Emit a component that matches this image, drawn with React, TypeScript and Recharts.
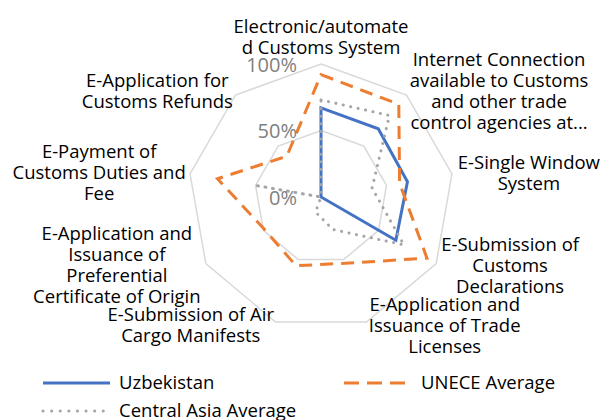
import React from "react";
import {
  RadarChart,
  Radar,
  PolarGrid,
  PolarAngleAxis,
  PolarRadiusAxis
} from "recharts";

// e-customs readiness (share of measures implemented)
const categories = [
  "Electronic/automated Customs System",
  "Internet Connection available to Customs and other trade control agencies at...",
  "E-Single Window System",
  "E-Submission of Customs Declarations",
  "E-Application and Issuance of Trade Licenses",
  "E-Submission of Air Cargo Manifests",
  "E-Application and Issuance of Preferential Certificate of Origin",
  "E-Payment of Customs Duties and Fee",
  "E-Application for Customs Refunds"
];

// how the labels wrap in the original
const categoryLines = [
  ["Electronic/automate", "d Customs System"],
  ["Internet Connection", "available to Customs", "and other trade", "control agencies at..."],
  ["E-Single Window", "System"],
  ["E-Submission of", "Customs", "Declarations"],
  ["E-Application and", "Issuance of Trade", "Licenses"],
  ["E-Submission of Air", "Cargo Manifests"],
  ["E-Application and", "Issuance of", "Preferential", "Certificate of Origin"],
  ["E-Payment of", "Customs Duties and", "Fee"],
  ["E-Application for", "Customs Refunds"]
];

const uzbekistan = [67, 67, 66, 65, 0, 0, 0, 0, 0];
const unece = [92, 91, 60, 92, 53, 55, 49, 79, 40];
const centralAsia = [73, 80, 39, 72, 26, 12, 0, 51, 0];

const radiusTicks = [0, 50, 100];

const data = categories.map((c, i) => ({
  category: c,
  uzbekistan: uzbekistan[i],
  unece: unece[i],
  centralAsia: centralAsia[i]
}));

const FONT = "'Open Sans', sans-serif";

// label block centre relative to the tick point
const labelOffset = [
  [0, -20.5],
  [87.4, 1.5],
  [69, -1],
  [67, -3.5],
  [75.5, -4.5],
  [-82, -5],
  [-82, -3.5],
  [-83, -1.5],
  [-73, 1.5]
];

function AngleTick(props: any) {
  const { x, y, payload } = props;
  const i = payload.index ?? categories.indexOf(payload.value);
  const lines = categoryLines[i] || [payload.value];
  const [dx, dy] = labelOffset[i] || [0, 0];
  const mid = y + dy;
  return (
    <g>
      {lines.map((l, k) => (
        <text
          key={k}
          x={x + dx}
          y={mid + (k - (lines.length - 1) / 2) * 21}
          textAnchor="middle"
          dominantBaseline="central"
          fill="#000"
          fontSize={18.5}
          fontFamily={FONT}
        >
          {l}
        </text>
      ))}
    </g>
  );
}

function RadiusTick(props: any) {
  const { x, y, payload } = props;
  return (
    <text
      x={x - 24}
      y={y}
      textAnchor="end"
      dominantBaseline="central"
      fill="#808080"
      fontSize={20}
      fontFamily={FONT}
    >
      {`${payload.value}%`}
    </text>
  );
}

const legendText: React.CSSProperties = {
  position: "absolute",
  fontFamily: FONT,
  fontSize: 18.5,
  color: "#000",
  lineHeight: "20px",
  whiteSpace: "nowrap"
};

function LegendSwatch({ color, dash, cap }: { color: string; dash?: string; cap?: "round" | "butt" }) {
  return (
    <svg width={72} height={6} style={{ display: "block" }}>
      <line
        x1={3}
        y1={3}
        x2={70}
        y2={3}
        stroke={color}
        strokeWidth={3}
        strokeDasharray={dash}
        strokeLinecap={cap || "butt"}
      />
    </svg>
  );
}

export default function App() {
  return (
    <div
      style={{
        position: "absolute",
        left: 0,
        top: 0,
        width: 603,
        height: 420,
        background: "#fff",
        overflow: "hidden"
      }}
    >
      <RadarChart
        width={603}
        height={420}
        data={data}
        cx={321}
        cy={197}
        outerRadius={133}
        margin={{ top: 0, right: 0, bottom: 0, left: 0 }}
        style={{ fontFamily: FONT }}
      >
        <PolarGrid gridType="polygon" radialLines={false} stroke="#d9d9d9" strokeWidth={1.5} />
        <PolarAngleAxis dataKey="category" tick={<AngleTick />} tickLine={false} axisLine={false} />
        <PolarRadiusAxis
          angle={90}
          domain={[0, 100]}
          ticks={radiusTicks}
          tickCount={3}
          axisLine={false}
          tickLine={false}
          tick={<RadiusTick />}
        />
        <Radar
          name="Uzbekistan"
          dataKey="uzbekistan"
          stroke="#4472c4"
          strokeWidth={3}
          fill="none"
          fillOpacity={0}
          dot={false}
          isAnimationActive={false}
        />
        <Radar
          name="UNECE Average"
          dataKey="unece"
          stroke="#ed7d31"
          strokeWidth={3}
          strokeDasharray="13 8"
          fill="none"
          fillOpacity={0}
          dot={false}
          isAnimationActive={false}
        />
        <Radar
          name="Central Asia Average"
          dataKey="centralAsia"
          stroke="#a5a5a5"
          strokeWidth={3}
          strokeDasharray="0.1 7.5"
          strokeLinecap="round"
          fill="none"
          fillOpacity={0}
          dot={false}
          isAnimationActive={false}
        />
      </RadarChart>

      {/* legend, laid out like the original */}
      <div style={{ position: "absolute", left: 40, top: 380 }}>
        <LegendSwatch color="#4472c4" />
      </div>
      <div style={{ ...legendText, left: 119, top: 372 }}>Uzbekistan</div>
      <div style={{ position: "absolute", left: 341, top: 380 }}>
        <svg width={70} height={6} style={{ display: "block" }}>
          <line x1={3} y1={3} x2={64} y2={3} stroke="#ed7d31" strokeWidth={3} strokeDasharray="15 8" />
        </svg>
      </div>
      <div style={{ ...legendText, left: 421, top: 372 }}>UNECE Average</div>
      <div style={{ position: "absolute", left: 40, top: 408 }}>
        <LegendSwatch color="#a5a5a5" dash="0.1 8.5" cap="round" />
      </div>
      <div style={{ ...legendText, left: 119, top: 400 }}>Central Asia Average</div>
    </div>
  );
}
